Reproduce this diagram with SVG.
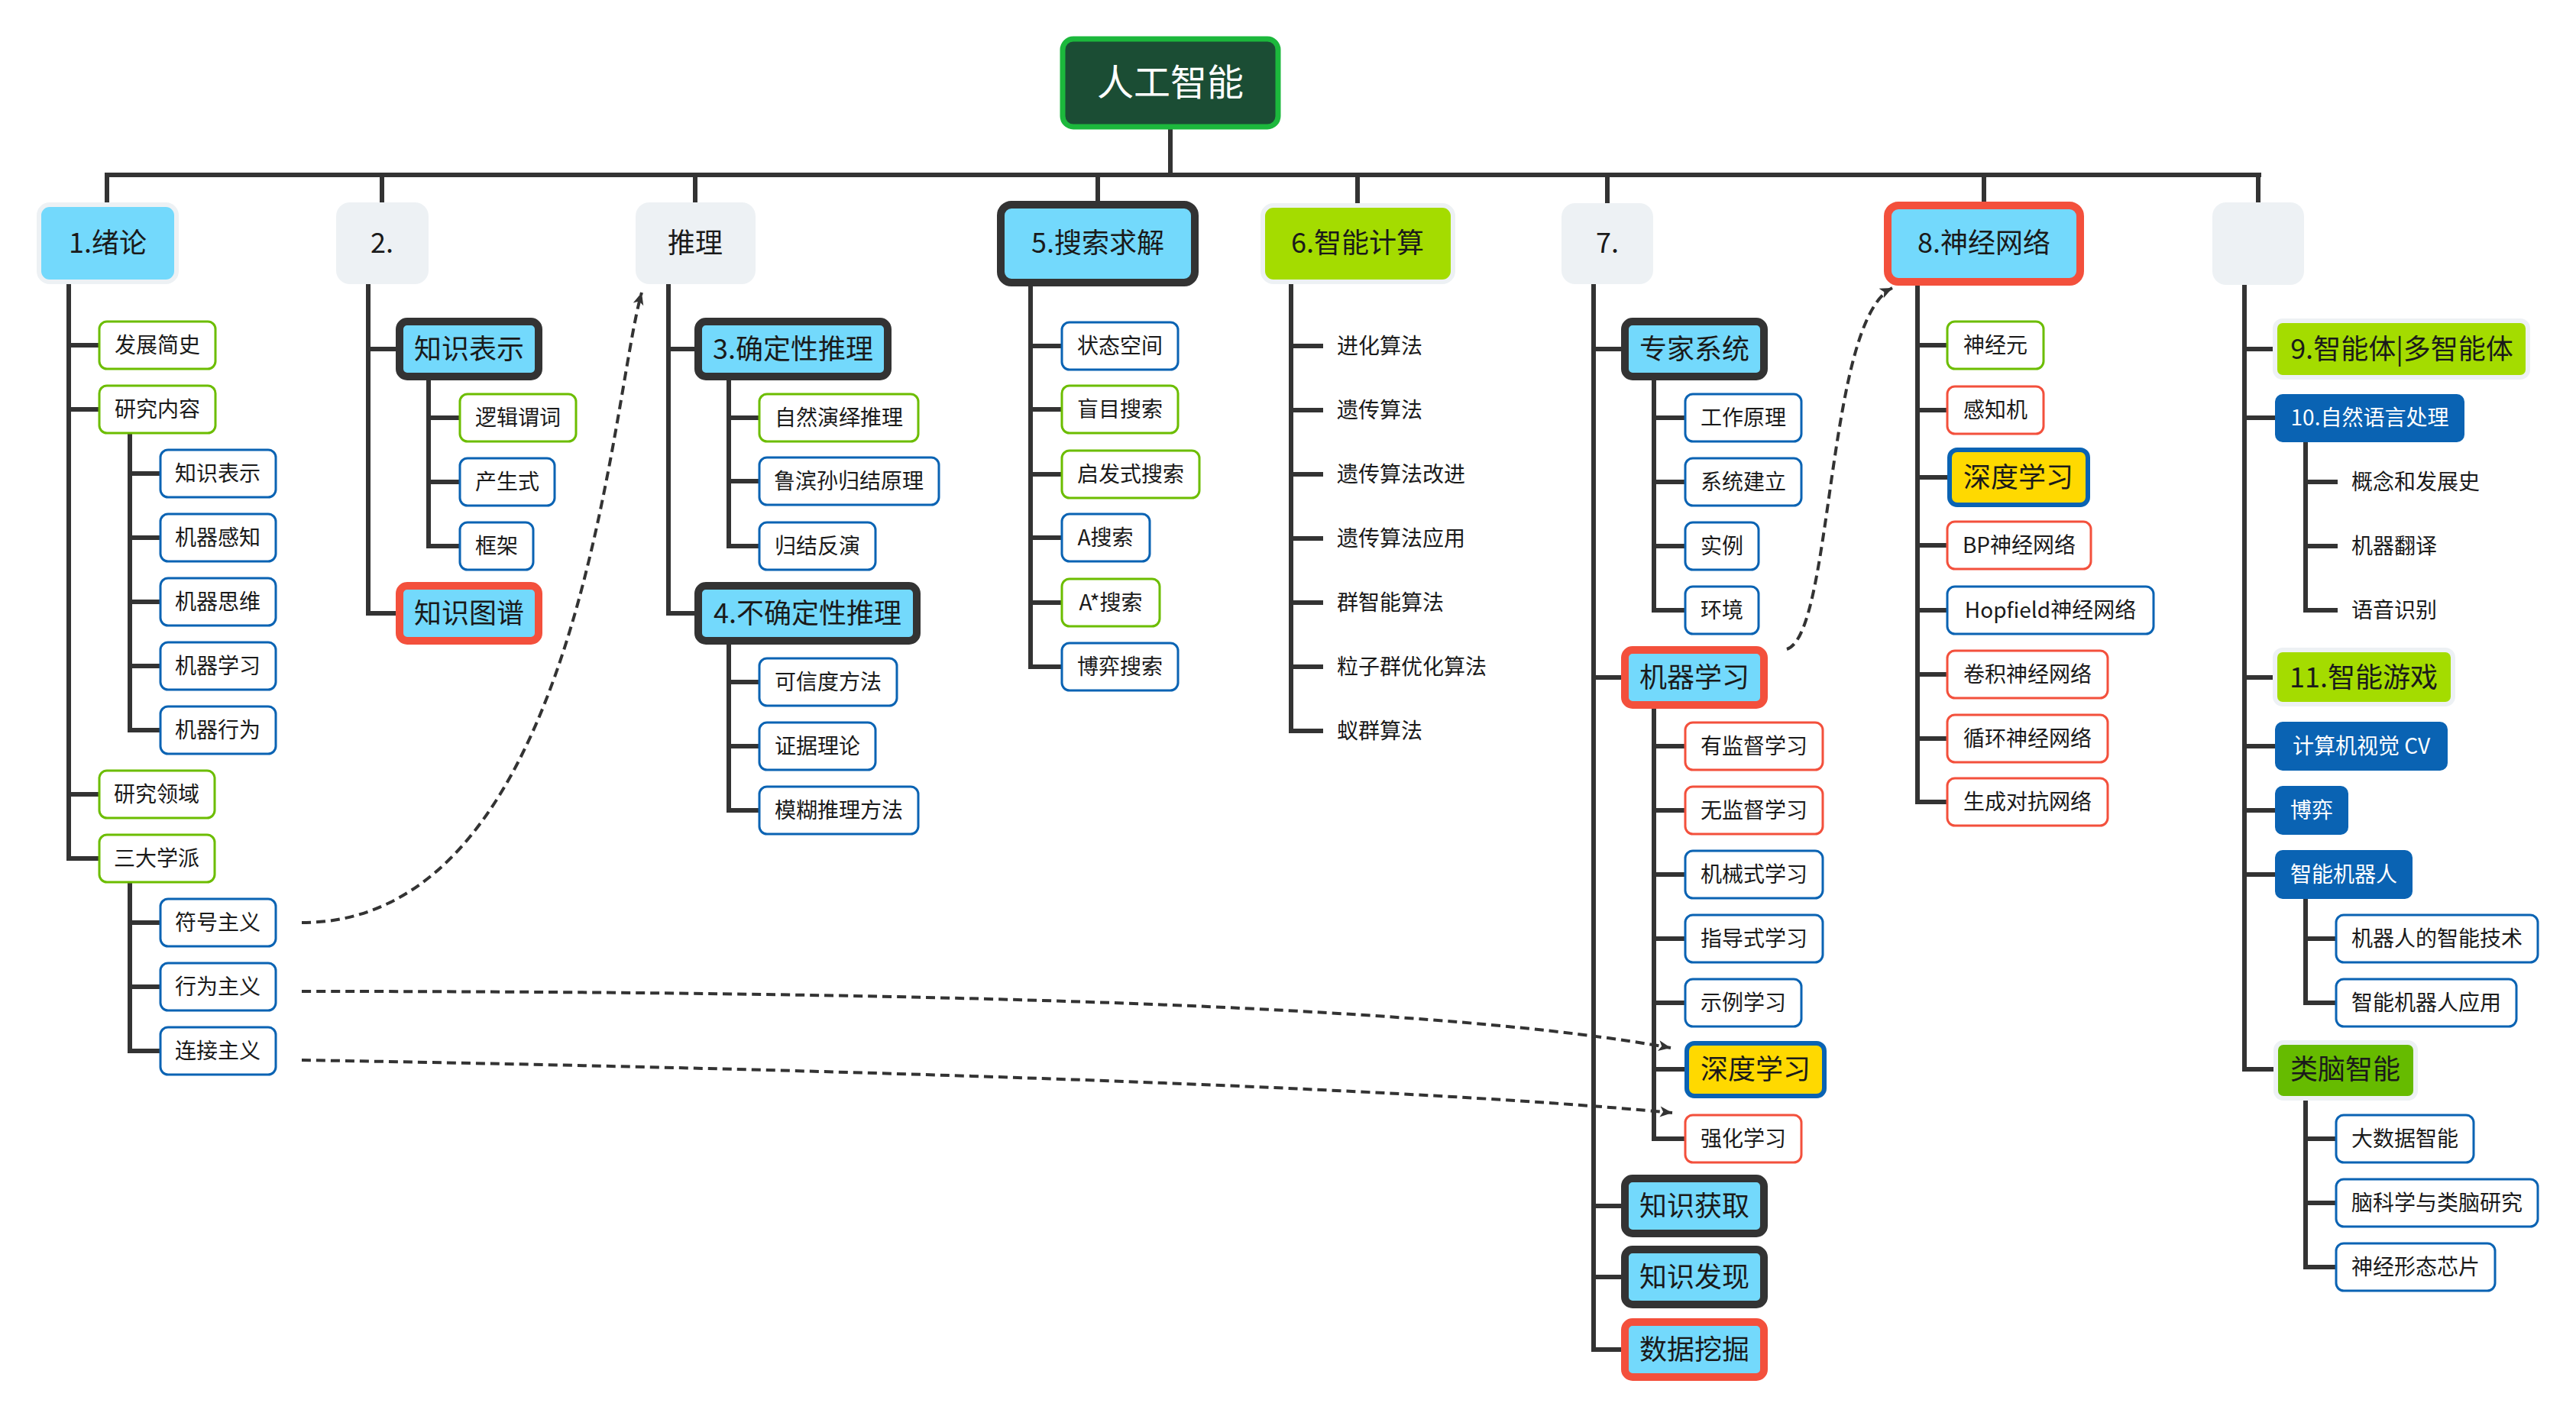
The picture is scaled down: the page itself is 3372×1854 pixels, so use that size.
<svg xmlns="http://www.w3.org/2000/svg" width="3372" height="1854" viewBox="0 0 3372 1854">
<style>
text{font-family:"Noto Sans CJK SC","Microsoft YaHei","Noto Sans",sans-serif;fill:#1a1a1a;text-anchor:middle}
.t28{font-size:28px}
.t36{font-size:36px}
.t48{font-size:48px;fill:#ffffff}
.w{fill:#ffffff}
.st{text-anchor:start}
.thin{fill:#ffffff;stroke-width:3}
.g{stroke:#6cbd00}
.b{stroke:#0a63b3}
.r{stroke:#f3503c}
.bold{fill:#73d9fc;stroke:#333333;stroke-width:10}
.redb{fill:#73d9fc;stroke:#f3503c;stroke-width:10}
.gray{fill:#edf1f4}
.top1{fill:#73d9fc;stroke:#edf1f4;stroke-width:6}
.yg{fill:#a4dc00;stroke:#edf1f4;stroke-width:6}
.lg{fill:#66bb00;stroke:#edf1f4;stroke-width:6}
.deep{fill:#ffd900;stroke:#0a63b3;stroke-width:6}
.db{fill:#0a63b3}
.ln{fill:none;stroke:#333333;stroke-width:6;stroke-linecap:square}
.dash{fill:none;stroke:#333333;stroke-width:4;stroke-dasharray:12 7}
</style>
<defs>
<marker id="arr" markerUnits="userSpaceOnUse" markerWidth="20" markerHeight="20" viewBox="0 0 20 20" refX="18" refY="10" orient="auto">
<path d="M2,3 L18,10 L2,17 L6,10 Z" fill="#333333"/>
</marker>
</defs>
<rect x="0" y="0" width="3372" height="1854" fill="#ffffff"/>

<g id="connectors">
<path class="ln" d="M1532,170 V229 M140,229 H2957 M140,229 V265 M500,229 V265 M910,229 V265 M1437,229 V263 M1777,229 V266 M2104,229 V266 M2597,229 V264 M2956,229 V265"/>
<path class="ln" d="M90,372 V1124 M90,452 H130 M90,536 H130 M90,1040 H130 M90,1124 H130 M170,568 V956 M170,620 H210 M170,704 H210 M170,788 H210 M170,872 H210 M170,956 H210 M170,1156 V1376 M170,1208 H210 M170,1292 H210 M170,1376 H210"/>
<path class="ln" d="M482,372 V803 M482,457 H518 M482,803 H518 M561,498 V715 M561,547 H602 M561,631 H602 M561,715 H602"/>
<path class="ln" d="M875,372 V803 M875,457 H909 M875,803 H909 M954,498 V715 M954,547 H994 M954,630 H994 M954,715 H994 M954,844 V1061 M954,893 H994 M954,977 H994 M954,1061 H994"/>
<path class="ln" d="M1349,375 V873 M1349,453 H1390 M1349,536 H1390 M1349,621 H1390 M1349,704 H1390 M1349,789 H1390 M1349,873 H1390"/>
<path class="ln" d="M1690,372 V957 M1690,453 H1729 M1690,537 H1729 M1690,621 H1729 M1690,705 H1729 M1690,789 H1729 M1690,873 H1729 M1690,957 H1729"/>
<path class="ln" d="M2086,372 V1767 M2086,457 H2122 M2086,887 H2122 M2086,1579 H2122 M2086,1672 H2122 M2086,1767 H2122 M2165,498 V799 M2165,547 H2206 M2165,631 H2206 M2165,715 H2206 M2165,799 H2206 M2165,928 V1491 M2165,977 H2206 M2165,1061 H2206 M2165,1145 H2206 M2165,1229 H2206 M2165,1313 H2206 M2165,1400 H2206 M2165,1491 H2206"/>
<path class="ln" d="M2510,374 V1050 M2510,452 H2549 M2510,537 H2549 M2510,625 H2549 M2510,714 H2549 M2510,799 H2549 M2510,883 H2549 M2510,967 H2549 M2510,1050 H2549"/>
<path class="ln" d="M2938,373 V1400 M2938,457 H2976 M2938,547 H2978 M2938,887 H2976 M2938,977 H2978 M2938,1061 H2978 M2938,1145 H2978 M2938,1400 H2976 M3018,579 V799 M3018,631 H3057 M3018,715 H3057 M3018,799 H3057 M3018,1177 V1313 M3018,1229 H3058 M3018,1313 H3058 M3018,1441 V1659 M3018,1491 H3058 M3018,1575 H3058 M3018,1659 H3058"/>
<path class="dash" marker-end="url(#arr)" d="M395,1208 C760,1208 800,520 840,383"/>
<path class="dash" marker-end="url(#arr)" d="M395,1298 C1300,1298 1900,1320 2187,1372"/>
<path class="dash" marker-end="url(#arr)" d="M395,1388 C1000,1398 1800,1420 2189,1457"/>
<path class="dash" marker-end="url(#arr)" d="M2339,850 C2400,830 2390,420 2477,377"/>
</g>

<g id="root"><rect x="1391" y="51" width="282" height="115" rx="14" fill="#1b4d34" stroke="#1cb83c" stroke-width="7"/><text class="t48" x="1532" y="125">人工智能</text></g>

<g id="n1"><rect class="top1" x="51" y="268" width="180" height="101" rx="14"/><text class="t36" x="141" y="331">1.绪论</text></g>
<g id="n1-1"><rect class="thin g" x="130" y="421" width="152" height="62" rx="10"/><text class="t28" x="206" y="462">发展简史</text></g>
<g id="n1-2"><rect class="thin g" x="130" y="505" width="152" height="62" rx="10"/><text class="t28" x="206" y="546">研究内容</text></g>
<g id="n1-2-1"><rect class="thin b" x="210" y="589" width="151" height="62" rx="10"/><text class="t28" x="285" y="630">知识表示</text></g>
<g id="n1-2-2"><rect class="thin b" x="210" y="673" width="151" height="62" rx="10"/><text class="t28" x="285" y="714">机器感知</text></g>
<g id="n1-2-3"><rect class="thin b" x="210" y="757" width="151" height="62" rx="10"/><text class="t28" x="285" y="798">机器思维</text></g>
<g id="n1-2-4"><rect class="thin b" x="210" y="841" width="151" height="62" rx="10"/><text class="t28" x="285" y="882">机器学习</text></g>
<g id="n1-2-5"><rect class="thin b" x="210" y="925" width="151" height="62" rx="10"/><text class="t28" x="285" y="966">机器行为</text></g>
<g id="n1-3"><rect class="thin g" x="130" y="1009" width="151" height="62" rx="10"/><text class="t28" x="205" y="1050">研究领域</text></g>
<g id="n1-4"><rect class="thin g" x="130" y="1093" width="151" height="62" rx="10"/><text class="t28" x="205" y="1134">三大学派</text></g>
<g id="n1-4-1"><rect class="thin b" x="210" y="1177" width="151" height="62" rx="10"/><text class="t28" x="285" y="1218">符号主义</text></g>
<g id="n1-4-2"><rect class="thin b" x="210" y="1261" width="151" height="62" rx="10"/><text class="t28" x="285" y="1302">行为主义</text></g>
<g id="n1-4-3"><rect class="thin b" x="210" y="1345" width="151" height="62" rx="10"/><text class="t28" x="285" y="1386">连接主义</text></g>

<g id="n2"><rect class="gray" x="440" y="265" width="121" height="107" rx="18"/><text class="t36" x="500" y="331">2.</text></g>
<g id="n2-1"><rect class="bold" x="523" y="421" width="182" height="72" rx="10"/><text class="t36" x="614" y="470">知识表示</text></g>
<g id="n2-1-1"><rect class="thin g" x="602" y="516" width="152" height="62" rx="10"/><text class="t28" x="678" y="557">逻辑谓词</text></g>
<g id="n2-1-2"><rect class="thin b" x="602" y="600" width="124" height="62" rx="10"/><text class="t28" x="664" y="641">产生式</text></g>
<g id="n2-1-3"><rect class="thin b" x="602" y="684" width="96" height="62" rx="10"/><text class="t28" x="650" y="725">框架</text></g>
<g id="n2-2"><rect class="redb" x="523" y="767" width="182" height="72" rx="10"/><text class="t36" x="614" y="816">知识图谱</text></g>

<g id="n3"><rect class="gray" x="832" y="265" width="157" height="107" rx="18"/><text class="t36" x="910" y="331">推理</text></g>
<g id="n3-1"><rect class="bold" x="914" y="421" width="248" height="72" rx="10"/><text class="t36" x="1038" y="470">3.确定性推理</text></g>
<g id="n3-1-1"><rect class="thin g" x="994" y="516" width="208" height="62" rx="10"/><text class="t28" x="1098" y="557">自然演绎推理</text></g>
<g id="n3-1-2"><rect class="thin b" x="994" y="599" width="235" height="62" rx="10"/><text class="t28" x="1111" y="640">鲁滨孙归结原理</text></g>
<g id="n3-1-3"><rect class="thin b" x="994" y="684" width="152" height="62" rx="10"/><text class="t28" x="1070" y="725">归结反演</text></g>
<g id="n3-2"><rect class="bold" x="914" y="767" width="286" height="72" rx="10"/><text class="t36" x="1057" y="816">4.不确定性推理</text></g>
<g id="n3-2-1"><rect class="thin b" x="994" y="862" width="180" height="62" rx="10"/><text class="t28" x="1084" y="903">可信度方法</text></g>
<g id="n3-2-2"><rect class="thin b" x="994" y="946" width="152" height="62" rx="10"/><text class="t28" x="1070" y="987">证据理论</text></g>
<g id="n3-2-3"><rect class="thin b" x="994" y="1030" width="208" height="62" rx="10"/><text class="t28" x="1098" y="1071">模糊推理方法</text></g>

<g id="n5"><rect class="bold" x="1310" y="268" width="254" height="102" rx="14"/><text class="t36" x="1437" y="331">5.搜索求解</text></g>
<g id="n5-1"><rect class="thin b" x="1390" y="422" width="152" height="62" rx="10"/><text class="t28" x="1466" y="463">状态空间</text></g>
<g id="n5-2"><rect class="thin g" x="1390" y="505" width="152" height="62" rx="10"/><text class="t28" x="1466" y="546">盲目搜索</text></g>
<g id="n5-3"><rect class="thin g" x="1390" y="590" width="180" height="62" rx="10"/><text class="t28" x="1480" y="631">启发式搜索</text></g>
<g id="n5-4"><rect class="thin b" x="1390" y="673" width="115" height="62" rx="10"/><text class="t28" x="1447" y="714">A搜索</text></g>
<g id="n5-5"><rect class="thin g" x="1390" y="758" width="128" height="62" rx="10"/><text class="t28" x="1454" y="799">A*搜索</text></g>
<g id="n5-6"><rect class="thin b" x="1390" y="842" width="152" height="62" rx="10"/><text class="t28" x="1466" y="883">博弈搜索</text></g>

<g id="n6"><rect class="yg" x="1653" y="269" width="249" height="100" rx="14"/><text class="t36" x="1777" y="331">6.智能计算</text></g>
<g id="n6-1"><text class="t28 st" x="1750" y="463">进化算法</text></g>
<g id="n6-2"><text class="t28 st" x="1750" y="547">遗传算法</text></g>
<g id="n6-3"><text class="t28 st" x="1750" y="631">遗传算法改进</text></g>
<g id="n6-4"><text class="t28 st" x="1750" y="715">遗传算法应用</text></g>
<g id="n6-5"><text class="t28 st" x="1750" y="799">群智能算法</text></g>
<g id="n6-6"><text class="t28 st" x="1750" y="883">粒子群优化算法</text></g>
<g id="n6-7"><text class="t28 st" x="1750" y="967">蚁群算法</text></g>

<g id="n7"><rect class="gray" x="2044" y="266" width="120" height="106" rx="18"/><text class="t36" x="2104" y="331">7.</text></g>
<g id="n7-1"><rect class="bold" x="2127" y="421" width="182" height="72" rx="10"/><text class="t36" x="2218" y="470">专家系统</text></g>
<g id="n7-1-1"><rect class="thin b" x="2206" y="516" width="152" height="62" rx="10"/><text class="t28" x="2282" y="557">工作原理</text></g>
<g id="n7-1-2"><rect class="thin b" x="2206" y="600" width="152" height="62" rx="10"/><text class="t28" x="2282" y="641">系统建立</text></g>
<g id="n7-1-3"><rect class="thin b" x="2206" y="684" width="96" height="62" rx="10"/><text class="t28" x="2254" y="725">实例</text></g>
<g id="n7-1-4"><rect class="thin b" x="2206" y="768" width="96" height="62" rx="10"/><text class="t28" x="2254" y="809">环境</text></g>
<g id="n7-2"><rect class="redb" x="2127" y="851" width="182" height="72" rx="10"/><text class="t36" x="2218" y="900">机器学习</text></g>
<g id="n7-2-1"><rect class="thin r" x="2206" y="946" width="180" height="62" rx="10"/><text class="t28" x="2296" y="987">有监督学习</text></g>
<g id="n7-2-2"><rect class="thin r" x="2206" y="1030" width="180" height="62" rx="10"/><text class="t28" x="2296" y="1071">无监督学习</text></g>
<g id="n7-2-3"><rect class="thin b" x="2206" y="1114" width="180" height="62" rx="10"/><text class="t28" x="2296" y="1155">机械式学习</text></g>
<g id="n7-2-4"><rect class="thin b" x="2206" y="1198" width="180" height="62" rx="10"/><text class="t28" x="2296" y="1239">指导式学习</text></g>
<g id="n7-2-5"><rect class="thin b" x="2206" y="1282" width="152" height="62" rx="10"/><text class="t28" x="2282" y="1323">示例学习</text></g>
<g id="n7-2-6"><rect class="deep" x="2208" y="1366" width="180" height="69" rx="10"/><text class="t36" x="2298" y="1413">深度学习</text></g>
<g id="n7-2-7"><rect class="thin r" x="2206" y="1460" width="152" height="62" rx="10"/><text class="t28" x="2282" y="1501">强化学习</text></g>
<g id="n7-3"><rect class="bold" x="2127" y="1543" width="182" height="72" rx="10"/><text class="t36" x="2218" y="1592">知识获取</text></g>
<g id="n7-4"><rect class="bold" x="2127" y="1636" width="182" height="72" rx="10"/><text class="t36" x="2218" y="1685">知识发现</text></g>
<g id="n7-5"><rect class="redb" x="2127" y="1731" width="182" height="72" rx="10"/><text class="t36" x="2218" y="1780">数据挖掘</text></g>

<g id="n8"><rect class="redb" x="2471" y="269" width="252" height="100" rx="14"/><text class="t36" x="2597" y="331">8.神经网络</text></g>
<g id="n8-1"><rect class="thin g" x="2549" y="421" width="126" height="62" rx="10"/><text class="t28" x="2612" y="462">神经元</text></g>
<g id="n8-2"><rect class="thin r" x="2549" y="506" width="126" height="62" rx="10"/><text class="t28" x="2612" y="547">感知机</text></g>
<g id="n8-3"><rect class="deep" x="2552" y="589" width="181" height="72" rx="10"/><text class="t36" x="2642" y="638">深度学习</text></g>
<g id="n8-4"><rect class="thin r" x="2549" y="683" width="188" height="62" rx="10"/><text class="t28" x="2643" y="724">BP神经网络</text></g>
<g id="n8-5"><rect class="thin b" x="2549" y="768" width="270" height="62" rx="10"/><text class="t28" x="2684" y="809">Hopfield神经网络</text></g>
<g id="n8-6"><rect class="thin r" x="2549" y="852" width="210" height="62" rx="10"/><text class="t28" x="2654" y="893">卷积神经网络</text></g>
<g id="n8-7"><rect class="thin r" x="2549" y="936" width="210" height="62" rx="10"/><text class="t28" x="2654" y="977">循环神经网络</text></g>
<g id="n8-8"><rect class="thin r" x="2549" y="1019" width="210" height="62" rx="10"/><text class="t28" x="2654" y="1060">生成对抗网络</text></g>

<g id="n9"><rect class="gray" x="2896" y="265" width="120" height="108" rx="18"/></g>
<g id="n9-1"><rect class="yg" x="2978" y="420" width="331" height="74" rx="10"/><text class="t36" x="3144" y="470">9.智能体|多智能体</text></g>
<g id="n9-2"><rect class="db" x="2978" y="516" width="248" height="63" rx="10"/><text class="t28 w" x="3102" y="557">10.自然语言处理</text></g>
<g id="n9-2-1"><text class="t28 st" x="3078" y="641">概念和发展史</text></g>
<g id="n9-2-2"><text class="t28 st" x="3078" y="725">机器翻译</text></g>
<g id="n9-2-3"><text class="t28 st" x="3078" y="809">语音识别</text></g>
<g id="n9-3"><rect class="yg" x="2978" y="851" width="233" height="71" rx="10"/><text class="t36" x="3094" y="900">11.智能游戏</text></g>
<g id="n9-4"><rect class="db" x="2978" y="945" width="226" height="64" rx="10"/><text class="t28 w" x="3091" y="987">计算机视觉 CV</text></g>
<g id="n9-5"><rect class="db" x="2978" y="1029" width="96" height="64" rx="10"/><text class="t28 w" x="3026" y="1071">博弈</text></g>
<g id="n9-6"><rect class="db" x="2978" y="1113" width="180" height="64" rx="10"/><text class="t28 w" x="3068" y="1155">智能机器人</text></g>
<g id="n9-6-1"><rect class="thin b" x="3058" y="1198" width="264" height="62" rx="10"/><text class="t28" x="3190" y="1239">机器人的智能技术</text></g>
<g id="n9-6-2"><rect class="thin b" x="3058" y="1282" width="236" height="62" rx="10"/><text class="t28" x="3176" y="1323">智能机器人应用</text></g>
<g id="n9-7"><rect class="lg" x="2979" y="1365" width="183" height="73" rx="10"/><text class="t36" x="3070" y="1413">类脑智能</text></g>
<g id="n9-7-1"><rect class="thin b" x="3058" y="1460" width="180" height="62" rx="10"/><text class="t28" x="3148" y="1501">大数据智能</text></g>
<g id="n9-7-2"><rect class="thin b" x="3058" y="1544" width="264" height="62" rx="10"/><text class="t28" x="3190" y="1585">脑科学与类脑研究</text></g>
<g id="n9-7-3"><rect class="thin b" x="3058" y="1628" width="208" height="62" rx="10"/><text class="t28" x="3162" y="1669">神经形态芯片</text></g>
</svg>
